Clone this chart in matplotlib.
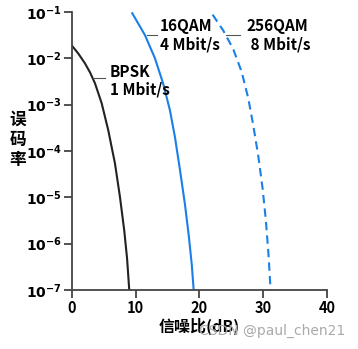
import numpy as np
import matplotlib
matplotlib.use('Agg')
import matplotlib.pyplot as plt

plt.rcParams['font.family'] = ['Noto Sans CJK SC', 'DejaVu Sans']

# curves: SNR (dB) and log10 of bit error rate
bpsk_db = [0.0, 1.0, 2.04, 2.85, 3.61, 4.66, 5.69, 6.75, 7.53, 8.2, 8.65, 8.99]
bpsk_log = [-1.73, -1.9, -2.11, -2.31, -2.54, -2.97, -3.55, -4.27, -4.99, -5.71, -6.32, -7.0]
qam16_db = [9.46, 11.45, 13.02, 14.32, 15.37, 16.16, 16.94, 17.73, 18.35, 18.8, 19.1]
qam16_log = [-1.03, -1.5, -2.0, -2.55, -3.12, -3.7, -4.4, -5.15, -5.85, -6.45, -7.0]
qam256_db = [22.07, 23.73, 25.3, 26.62, 27.66, 28.44, 29.22, 29.91, 30.43, 30.85, 31.17]
qam256_log = [-1.06, -1.4, -1.8, -2.29, -2.86, -3.44, -4.09, -4.8, -5.5, -6.25, -7.0]

xticks = [0, 10, 20, 30, 40]
yexp = [-1, -2, -3, -4, -5, -6, -7]

fig = plt.figure(figsize=(3.58, 3.49), dpi=100)
ax = fig.add_axes([0.201, 0.169, 0.712, 0.797])

blue = '#1a7fe6'
ax.plot(bpsk_db, 10.0 ** np.array(bpsk_log), color='#222222', lw=1.5)
ax.plot(qam16_db, 10.0 ** np.array(qam16_log), color=blue, lw=1.5)
ax.plot(qam256_db, 10.0 ** np.array(qam256_log), color=blue, lw=1.5,
        dashes=(4, 2.5))

ax.set_yscale('log')
ax.set_xlim(0, 40)
ax.set_ylim(1e-7, 1e-1)
ax.set_xticks(xticks)
ax.set_xticklabels([str(t) for t in xticks], fontsize=10.5, fontweight='bold')
ax.set_yticks([10.0 ** e for e in yexp])
ax.set_yticklabels([r'$\mathbf{10^{%d}}$' % e for e in yexp], fontsize=10)
ax.minorticks_off()
for s in ['top', 'right']:
    ax.spines[s].set_visible(False)
for s in ['left', 'bottom']:
    ax.spines[s].set_color('#444444')
    ax.spines[s].set_linewidth(1.3)
ax.tick_params(length=6, width=1.3, color='#444444', pad=1.5)

# labels with short leader lines
lab = dict(fontsize=11, fontweight='bold', va='center', ha='left', linespacing=1.15)
ax.text(5.96, 10 ** -2.49, 'BPSK\n1 Mbit/s', **lab)
ax.plot([3.3, 5.2], [10 ** -2.42, 10 ** -2.42], color='#555555', lw=0.8)
ax.text(13.8, 10 ** -1.5, '16QAM\n4 Mbit/s', **lab)
ax.plot([11.8, 13.3], [10 ** -1.5, 10 ** -1.5], color='#555555', lw=0.8)
ax.text(27.4, 10 ** -1.5, '256QAM\n 8 Mbit/s', **lab)
ax.plot([24.2, 26.4], [10 ** -1.5, 10 ** -1.5], color='#555555', lw=0.8)

ax.set_xlabel('信噪比(dB)', fontsize=11.5, fontweight='bold', labelpad=1)
fig.text(0.05, 0.6, '误\n码\n率', fontsize=12, fontweight='bold',
         ha='center', va='center', linespacing=1.15)
fig.text(0.965, 0.052, 'CSDN @paul_chen21', fontsize=10, color='#aaaaaa',
         ha='right', va='center', family='DejaVu Sans')

fig.savefig('out.png', dpi=100)
